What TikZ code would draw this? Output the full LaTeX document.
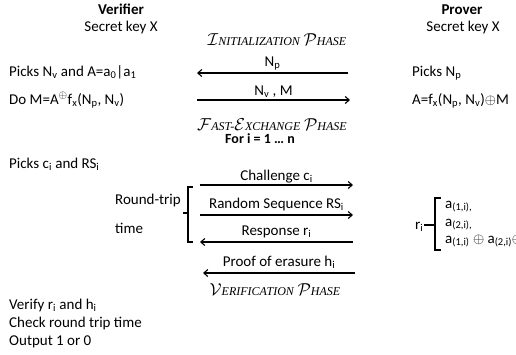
\documentclass[tikz,border=0pt]{standalone}
\usepackage{fontspec}
\setmainfont{Carlito}
\newfontfamily\phasefont{Liberation Serif}
\usetikzlibrary{arrows.meta,positioning}
\newcommand{\lo}[1]{\textsubscript{#1}}
\newcommand{\psc}[1]{{\phasefont\itshape\fontsize{12}{14}\selectfont #1}}

\begin{document}
\begin{tikzpicture}[x=1pt,y=-1pt, every node/.style={font=\fontsize{15}{17}\selectfont, inner sep=0pt},
    msg/.style={-{Straight Barb[length=4pt,width=7pt]}, line width=1.1pt, black},
    brk/.style={line width=1.3pt, black},
    phase/.style={anchor=base, font=\fontsize{16}{18}\selectfont},
    txt/.style={anchor=base west},
    lbl/.style={anchor=base, yshift=7pt}]
    \useasboundingbox (0,0) rectangle (516,354);

    % parties
    \node[anchor=base, font=\fontsize{15}{17}\selectfont\bfseries] (verifier) at (121,14) {Verifier};
    \node[anchor=base] (vkey) at (121,31) {Secret key X};
    \node[anchor=base, font=\fontsize{15}{17}\selectfont\bfseries] (prover) at (462,14) {Prover};
    \node[anchor=base] (pkey) at (463,31) {Secret key X};

    % initialization
    \node[phase] (init) at (277,45) {$\mathcal{I}$\psc{NITIALIZATION} $\mathcal{P}$\psc{HASE}};
    \node[txt] (vpick) at (9,76) {Picks N\lo{v} and A=a\lo{0}|a\lo{1}};
    \node[txt] (vdo) at (9,104) {Do M=A${}^{\oplus}$f\lo{x}(N\lo{p}, N\lo{v})};
    \node[txt] (ppick) at (412,76) {Picks N\lo{p}};
    \node[txt] (pcalc) at (412,104) {A=f\lo{x}(N\lo{p}, N\lo{v})$\oplus$M};

    \coordinate (v1) at (197,73);  \coordinate (p1) at (348,73);
    \coordinate (v2) at (197,100); \coordinate (p2) at (350,100);
    \draw[msg] (p1) -- (v1) node[lbl, midway] (lnp) {N\lo{p}};
    \draw[msg] (v2) -- (p2) node[lbl, midway, yshift=-2pt] (lnvm) {N\lo{v} , M};

    % fast exchange
    \node[phase] (fast) at (272,130) {$\mathcal{F}$\psc{AST-}$\mathcal{E}$\psc{XCHANGE} $\mathcal{P}$\psc{HASE}};
    \node[anchor=base, font=\fontsize{14}{16}\selectfont\bfseries] (loop) at (260,143) {For i = 1 \dots\ n};
    \node[txt] (vchal) at (9,168) {Picks c\lo{i} and RS\lo{i}};

    \coordinate (v3) at (200,185); \coordinate (p3) at (353,185);
    \coordinate (v4) at (200,215); \coordinate (p4) at (353,215);
    \coordinate (v5) at (200,242); \coordinate (p5) at (353,242);
    \coordinate (v6) at (203,273); \coordinate (p6) at (355,273);
    \draw[msg] (v3) -- (p3) node[lbl, midway, yshift=-2pt] (lchal) {Challenge c\lo{i}};
    \draw[msg] (v4) -- (p4) node[lbl, midway] (lrs) {Random Sequence RS\lo{i}};
    \draw[msg] (p5) -- (v5) node[lbl, midway] (lresp) {Response r\lo{i}};
    \draw[msg] (p6) -- (v6) node[lbl, midway] (lproof) {Proof of erasure h\lo{i}};

    % round-trip bracket
    \node[anchor=base east] (rtt) at (181,204) {Round-trip};
    \node[txt] (rtt2) at (rtt.base west |- 0,233) {time};
    \coordinate (bt) at (188,187); \coordinate (bb) at (188,242); \coordinate (bm) at (188,213);
    \draw[brk] ([xshift=5pt]bt) -- (bt) -- (bb) -- ([xshift=5pt]bb);
    \draw[brk] (bm) -- ([xshift=-5pt]bm);

    % response bits
    \node[txt] (ri) at (415,229) {r\lo{i}};
    \node[txt] (a1) at (445,208) {a\lo{(1,i),}};
    \node[txt] (a2) at (445,226) {a\lo{(2,i),}};
    \node[txt] (a3) at (445,243) {a\lo{(1,i)} $\oplus$ a\lo{(2,i)}$\oplus$X};
    \coordinate (rt) at (435,198); \coordinate (rb) at (435,250); \coordinate (rm) at (435,225);
    \draw[brk] ([xshift=6pt]rt) -- (rt) -- (rb) -- ([xshift=6pt]rb);
    \draw[brk] (rm) -- (ri.east |- rm);

    % verification
    \node[phase] (verif) at (275,295) {$\mathcal{V}$\psc{ERIFICATION} $\mathcal{P}$\psc{HASE}};
    \node[txt] (vchk1) at (9,309) {Verify r\lo{i} and h\lo{i}};
    \node[txt] (vchk2) at (9,327) {Check round trip time};
    \node[txt] (vchk3) at (9,345) {Output 1 or 0};
  \end{tikzpicture}
\end{document}
